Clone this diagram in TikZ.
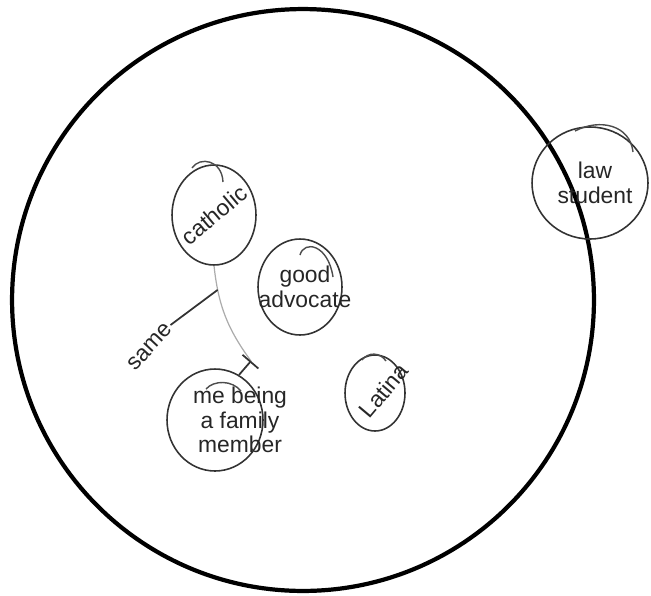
\documentclass[tikz,border=0pt]{standalone}
\usepackage{fontspec}
\setmainfont{Liberation Sans}
\usetikzlibrary{shapes.geometric,arrows.meta,calc}

\begin{document}
\begin{tikzpicture}[
    x=0.02cm,
    y=-0.02cm,
    font=\fontsize{13}{14}\selectfont,
    world/.style={
        draw,
        circle,
        line width=2.4pt,
        minimum size=11.64cm,
        inner sep=0pt
    },
    bubble/.style={
        draw=black!80,
        ellipse,
        line width=0.9pt,
        inner sep=0pt
    },
    tag/.style={align=center, text=black!85, inner sep=1pt},
    retrace/.style={draw=black!70, line width=0.8pt},
    link/.style={draw=gray!65, line width=0.7pt},
    tick/.style={draw=black!80, line width=1pt}
]
\useasboundingbox (0,0) rectangle (651,595);

% ============================================================
% OUTER CIRCLE
% ============================================================
\node[world] (world) at (303,300) {};

% ============================================================
% IDENTITIES
% ============================================================
\node[bubble, minimum width=1.68cm, minimum height=2.0cm,
      label={[tag, rotate=40]center:catholic}] (cath) at (214,215) {};
\node[bubble, minimum width=1.68cm, minimum height=1.92cm,
      label={[tag, xshift=0.1cm]center:good\\advocate}] (good) at (300,287) {};
\node[bubble, minimum width=1.2cm, minimum height=1.52cm,
      label={[tag, rotate=50, xshift=0.15cm, yshift=-0.1cm]center:Latina}] (latina) at (375,393) {};
\node[bubble, minimum width=1.92cm, minimum height=2.04cm,
      label={[tag, xshift=0.5cm]center:me being\\a family\\member}] (member) at (215,420) {};
\node[bubble, minimum width=2.32cm, minimum height=2.24cm,
      label={[tag, xshift=0.1cm]center:law\\student}] (law) at (590,183) {};

% second strokes of the hand-drawn rings
\draw[retrace] (192,168) .. controls (200,156) and (222,160) .. (223,182);
\draw[retrace] (300,255) .. controls (304,240) and (328,244) .. (333,277);
\draw[retrace] (362,360) .. controls (368,352) and (380,352) .. (386,361);
\draw[retrace] (206,389) .. controls (214,380) and (232,380) .. (241,391);
\draw[retrace] (575,131) .. controls (600,118) and (630,125) .. (633,152);

% ============================================================
% SAME
% ============================================================
\coordinate (tee) at (251,361);
\draw[link] (cath.south) to[bend right=15] coordinate[pos=0.22] (bend) (tee);
\draw[tick, {Bar[width=0.42cm]}-] (tee) -- (member.62);

\node[tag, rotate=47] (same) at (150,347) {same};
\draw[tick] (bend) -- (same.east);

\end{tikzpicture}
\end{document}
